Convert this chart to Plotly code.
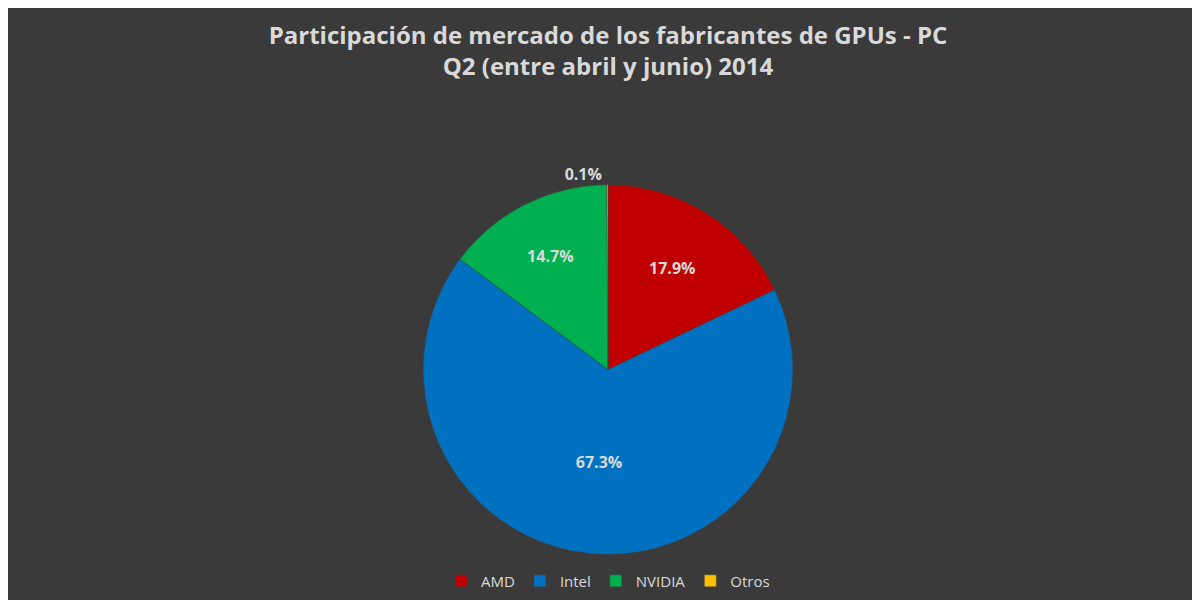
import plotly.graph_objects as go

labels = ["AMD", "Intel", "NVIDIA", "Otros"]
shares = [17.9, 67.3, 14.7, 0.1]
colors = ["#C00000", "#0070C0", "#00B050", "#FFC000"]

fig = go.Figure(go.Pie(
    labels=labels, values=shares, sort=False, direction="clockwise", rotation=0,
    marker=dict(colors=colors, line=dict(color="#404040", width=0.5)),
    texttemplate="<b>%{value:.1f}%</b>", textposition=["inside", "inside", "inside", "outside"],
    insidetextorientation="horizontal",
    textfont=dict(family="Open Sans", size=16, color="#d9d9d9"),
    domain=dict(x=[0.05, 0.95], y=[0.07, 0.84]),
))
fig.update_layout(
    width=1200, height=600,
    paper_bgcolor="#3a3a3a", plot_bgcolor="#3a3a3a",
    title=dict(text="<b>Participación de mercado de los fabricantes de GPUs - PC<br>Q2 (entre abril y junio) 2014</b>",
               x=0.5, xanchor="center", y=0.94, yanchor="middle",
               font=dict(family="Open Sans", size=24, color="#d9d9d9")),
    legend=dict(orientation="h", x=0.5, xanchor="center", y=-0.02, yanchor="bottom",
                font=dict(family="Open Sans", size=15, color="#d9d9d9")),
    margin=dict(l=20, r=20, t=100, b=10),
)
fig.write_html("out.html")
